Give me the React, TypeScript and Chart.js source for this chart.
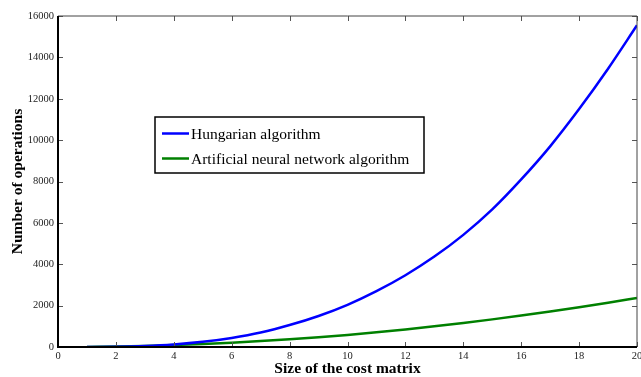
import React, { useEffect, useRef } from "react";
import { Chart, registerables } from "chart.js";

Chart.register(...registerables);

const matrixSizes = [1, 2, 3, 4, 5, 6, 7, 8, 9, 10, 11, 12, 13, 14, 15, 16, 17, 18, 19, 20];
const hungarianOps = [2, 15, 52, 125, 250, 440, 700, 1060, 1500, 2040, 2700, 3470, 4370, 5420, 6650, 8100, 9700, 11500, 13450, 15550];
const annOps = [6, 23, 52, 93, 145, 210, 285, 375, 475, 585, 710, 850, 1000, 1160, 1335, 1520, 1715, 1920, 2140, 2370];
const xTicks = [0, 2, 4, 6, 8, 10, 12, 14, 16, 18, 20];
const yTicks = [0, 2000, 4000, 6000, 8000, 10000, 12000, 14000, 16000];
const seriesNames = ["Hungarian algorithm", "Artificial neural network algorithm"];
const xTitle = "Size of the cost matrix";
const yTitle = "Number of operations";

const SERIF = "'Liberation Serif', 'Times New Roman', serif";

const framePlugin = {
  id: "frame",
  afterDraw(chart: any) {
    const { ctx, chartArea } = chart;
    const { left, right, top, bottom } = chartArea;
    const xs = chart.scales.x;
    const ys = chart.scales.y;
    ctx.save();
    // inward ticks
    ctx.strokeStyle = "#555";
    ctx.lineWidth = 1;
    const tl = 5;
    xTicks.forEach((v) => {
      const px = Math.round(xs.getPixelForValue(v)) + 0.5;
      ctx.beginPath();
      ctx.moveTo(px, bottom);
      ctx.lineTo(px, bottom - tl);
      ctx.moveTo(px, top);
      ctx.lineTo(px, top + tl);
      ctx.stroke();
    });
    yTicks.forEach((v) => {
      const py = Math.round(ys.getPixelForValue(v)) + 0.5;
      ctx.beginPath();
      ctx.moveTo(left, py);
      ctx.lineTo(left + tl, py);
      ctx.moveTo(right, py);
      ctx.lineTo(right - tl, py);
      ctx.stroke();
    });
    // frame
    ctx.lineWidth = 1;
    ctx.strokeStyle = "#444";
    ctx.beginPath();
    ctx.moveTo(left, top);
    ctx.lineTo(right, top);
    ctx.lineTo(right, bottom);
    ctx.stroke();
    ctx.lineWidth = 2;
    ctx.strokeStyle = "#000";
    ctx.beginPath();
    ctx.moveTo(left, top);
    ctx.lineTo(left, bottom);
    ctx.lineTo(right, bottom);
    ctx.stroke();

    // axis titles
    ctx.fillStyle = "#000";
    ctx.font = `bold 15.5px ${SERIF}`;
    ctx.textAlign = "center";
    ctx.textBaseline = "alphabetic";
    ctx.fillText(xTitle, (left + right) / 2, 373);
    ctx.save();
    ctx.translate(22, (top + bottom) / 2);
    ctx.rotate(-Math.PI / 2);
    ctx.fillText(yTitle, 0, 0);
    ctx.restore();

    // legend
    const bx = left + 97;
    const by = top + 101;
    const bw = 269;
    const bh = 56;
    ctx.fillStyle = "#fff";
    ctx.fillRect(bx, by, bw, bh);
    ctx.lineWidth = 1.5;
    ctx.strokeStyle = "#000";
    ctx.strokeRect(bx, by, bw, bh);
    ctx.font = `15.5px ${SERIF}`;
    ctx.textAlign = "left";
    ctx.textBaseline = "middle";
    chart.data.datasets.forEach((ds: any, i: number) => {
      const ry = by + 16.5 + i * 25;
      ctx.strokeStyle = ds.borderColor;
      ctx.lineWidth = 2.5;
      ctx.beginPath();
      ctx.moveTo(bx + 7, ry);
      ctx.lineTo(bx + 34, ry);
      ctx.stroke();
      ctx.fillStyle = "#000";
      ctx.fillText(ds.label, bx + 36, ry + 1);
    });
    ctx.restore();
  },
};

export default function App() {
  const ref = useRef<HTMLCanvasElement>(null);
  useEffect(() => {
    if (!ref.current) return;
    const chart = new Chart(ref.current, {
      type: "line",
      data: {
        datasets: [
          {
            label: seriesNames[0],
            data: matrixSizes.map((n, i) => ({ x: n, y: hungarianOps[i] })),
            borderColor: "#0000ff",
            borderWidth: 2.5,
            pointRadius: 0,
            cubicInterpolationMode: "monotone",
            fill: false,
          },
          {
            label: seriesNames[1],
            data: matrixSizes.map((n, i) => ({ x: n, y: annOps[i] })),
            borderColor: "#008000",
            borderWidth: 2.5,
            pointRadius: 0,
            cubicInterpolationMode: "monotone",
            fill: false,
          },
        ],
      },
      options: {
        responsive: false,
        animation: false,
        devicePixelRatio: 1,
        layout: { padding: { top: 16, right: 4, left: 0, bottom: 0 } },
        plugins: { legend: { display: false }, tooltip: { enabled: false } },
        scales: {
          x: {
            type: "linear",
            min: 0,
            max: 20,
            grid: { display: false, drawTicks: false },
            border: { display: false },
            afterBuildTicks: (s: any) => {
              s.ticks = xTicks.map((v) => ({ value: v }));
            },
            afterFit: (s: any) => {
              s.height = 30;
              s.paddingLeft = 0;
              s.paddingRight = 0;
            },
            ticks: {
              autoSkip: false,
              maxRotation: 0,
              padding: 3,
              color: "#222",
              font: { family: SERIF, size: 10.5 },
            },
          },
          y: {
            type: "linear",
            min: 0,
            max: 16000,
            grid: { display: false, drawTicks: false },
            border: { display: false },
            afterBuildTicks: (s: any) => {
              s.ticks = yTicks.map((v) => ({ value: v }));
            },
            afterFit: (s: any) => {
              s.width = 58;
              s.paddingTop = 0;
              s.paddingBottom = 0;
            },
            ticks: {
              autoSkip: false,
              padding: 4,
              color: "#222",
              font: { family: SERIF, size: 10.5 },
              callback: (v: any) => String(v),
            },
          },
        },
      },
      plugins: [framePlugin],
    } as any);
    return () => chart.destroy();
  }, []);
  return (
    <div style={{ position: "fixed", left: 0, top: 0, width: 641, height: 377, background: "#fff" }}>
      <canvas ref={ref} width={641} height={377} style={{ display: "block", width: 641, height: 377 }} />
    </div>
  );
}
